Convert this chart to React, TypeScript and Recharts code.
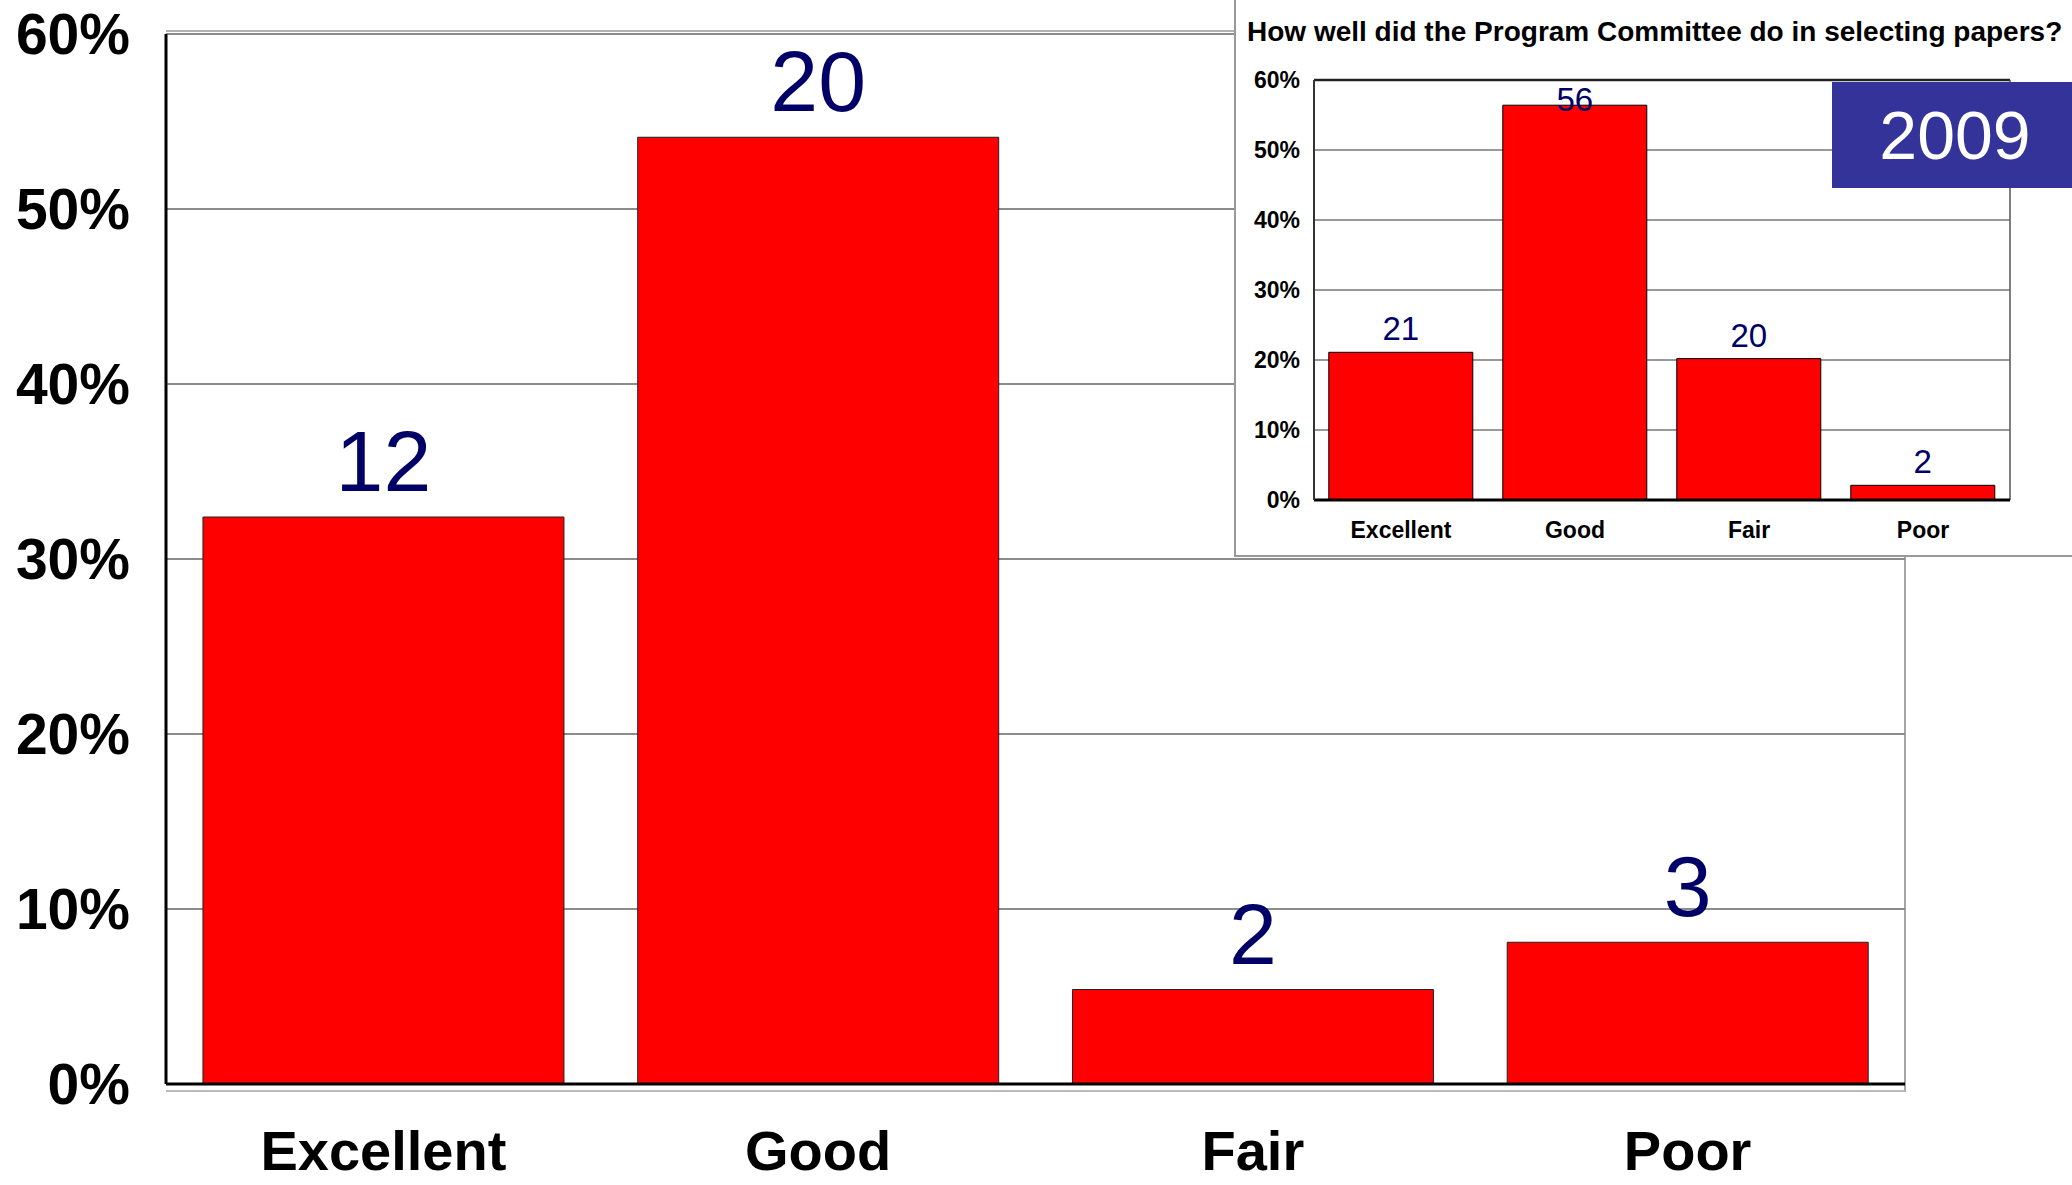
import React from 'react';
import * as R from 'recharts';

const { BarChart, Bar, XAxis, YAxis, CartesianGrid, LabelList } = R as any;

const FONT = '"Liberation Sans", Arial, sans-serif';
const NAVY = '#000066';
const RED = '#FF0000';

const categories = ['Excellent', 'Good', 'Fair', 'Poor'];
// main chart: share of answers (%) and the answer counts printed above the bars
const share2010 = [32.4, 54.1, 5.4, 8.1];
const count2010 = [12, 20, 2, 3];
// inset chart (2009)
const share2009 = [21.1, 56.4, 20.2, 2.1];
const count2009 = [21, 56, 20, 2];
const pctTicks = [0, 10, 20, 30, 40, 50, 60];
const insetTitle = 'How well did the Program Committee do in selecting papers?';
const insetYear = '2009';

const mainData = categories.map((name, i) => ({ name, share: share2010[i], count: count2010[i] }));
const insetData = categories.map((name, i) => ({ name, share: share2009[i], count: count2009[i] }));

const pct = (v: number) => `${v}%`;

// label above a bar, kept inside the plot when the bar nearly touches the top
const barLabel = (fontSize: number, gap: number, minBaseline = 0) => (props: any) => {
  const x = Number(props.x);
  const y = Number(props.y);
  const w = Number(props.width);
  const base = Math.max(y - gap, minBaseline);
  return (
    <text x={x + w / 2} y={base} textAnchor="middle" fontSize={fontSize} fontFamily={FONT} fill={NAVY}>
      {props.value}
    </text>
  );
};

const usePlot = () => {
  const hook = (R as any).usePlotArea;
  return hook ? hook() : undefined;
};

const MainFrame = () => {
  const a = usePlot();
  if (!a) return null;
  const { x, y, width, height } = a;
  return (
    <g>
      <line x1={x} x2={x + width} y1={y - 3} y2={y - 3} stroke="#999" strokeWidth={1.5} />
      <line x1={x + width} x2={x + width} y1={y - 3} y2={y + height + 8} stroke="#888" strokeWidth={1.5} />
      <line x1={x} x2={x + width} y1={y + height + 7} y2={y + height + 7} stroke="#bbb" strokeWidth={2} />
    </g>
  );
};

const InsetFrame = () => {
  const a = usePlot();
  if (!a) return null;
  const { x, y, width, height } = a;
  return (
    <g>
      <line x1={x} x2={x + width} y1={y} y2={y} stroke="#222" strokeWidth={2.5} />
      <line x1={x + width} x2={x + width} y1={y} y2={y + height} stroke="#555" strokeWidth={1.5} />
    </g>
  );
};

export default function App() {
  return (
    <div style={{ position: 'absolute', left: 0, top: 0, width: 2072, height: 1185, background: '#fff', overflow: 'hidden' }}>
      <BarChart
        width={2072}
        height={1185}
        data={mainData}
        margin={{ top: 34, right: 167, bottom: 0, left: 0 }}
        barCategoryGap="8.5%"
      >
        <CartesianGrid vertical={false} stroke="#666" strokeWidth={1.5} />
        <MainFrame />
        <XAxis
          dataKey="name"
          height={101}
          interval={0}
          tickLine={false}
          tickSize={0}
          tickMargin={46}
          axisLine={{ stroke: '#000', strokeWidth: 3 }}
          tick={{ fontSize: 56, fontWeight: 700, fill: '#000', fontFamily: FONT }}
        />
        <YAxis
          width={166}
          domain={[0, 60]}
          ticks={pctTicks}
          interval={0}
          tickFormatter={pct}
          tickLine={false}
          tickSize={0}
          tickMargin={36}
          axisLine={{ stroke: '#000', strokeWidth: 3 }}
          tick={{ fontSize: 57, fontWeight: 700, fill: '#000', fontFamily: FONT }}
        />
        <Bar dataKey="share" fill={RED} stroke="#222" strokeWidth={1} isAnimationActive={false}>
          <LabelList dataKey="count" content={barLabel(86, 26)} />
        </Bar>
      </BarChart>

      {/* inset panel with last year's results */}
      <div
        style={{
          position: 'absolute',
          left: 1234,
          top: -2,
          width: 850,
          height: 557,
          background: '#fff',
          borderLeft: '2px solid #999',
          borderBottom: '2px solid #999',
        }}
      />
      <div
        style={{
          position: 'absolute',
          left: 1247,
          top: 18,
          fontFamily: FONT,
          fontWeight: 700,
          fontSize: 28,
          lineHeight: '28px',
          whiteSpace: 'nowrap',
          color: '#000',
        }}
      >
        {insetTitle}
      </div>
      <div style={{ position: 'absolute', left: 1236, top: 0 }}>
        <BarChart
          width={836}
          height={555}
          data={insetData}
          margin={{ top: 80, right: 62, bottom: 0, left: 0 }}
          barCategoryGap="8.5%"
        >
          <CartesianGrid vertical={false} stroke="#777" strokeWidth={1.5} />
          <InsetFrame />
          <XAxis
            dataKey="name"
            height={55}
            interval={0}
            tickLine={false}
            tickSize={0}
            tickMargin={22}
            axisLine={{ stroke: '#000', strokeWidth: 3 }}
            tick={{ fontSize: 23, fontWeight: 700, fill: '#000', fontFamily: FONT }}
          />
          <YAxis
            width={78}
            domain={[0, 60]}
            ticks={pctTicks}
            interval={0}
            tickFormatter={pct}
            tickLine={false}
            tickSize={0}
            tickMargin={14}
            axisLine={{ stroke: '#333', strokeWidth: 2 }}
            tick={{ fontSize: 23, fontWeight: 700, fill: '#000', fontFamily: FONT }}
          />
          <Bar dataKey="share" fill={RED} stroke="#000" strokeWidth={1} isAnimationActive={false}>
            <LabelList dataKey="count" content={barLabel(33, 12, 111)} />
          </Bar>
        </BarChart>
      </div>
      <div
        style={{
          position: 'absolute',
          left: 1832,
          top: 82,
          width: 240,
          height: 106,
          background: '#333399',
          color: '#fff',
          fontFamily: FONT,
          fontSize: 68,
          display: 'flex',
          alignItems: 'center',
          justifyContent: 'center',
          paddingLeft: 6,
          boxSizing: 'border-box',
        }}
      >
        {insetYear}
      </div>
    </div>
  );
}
